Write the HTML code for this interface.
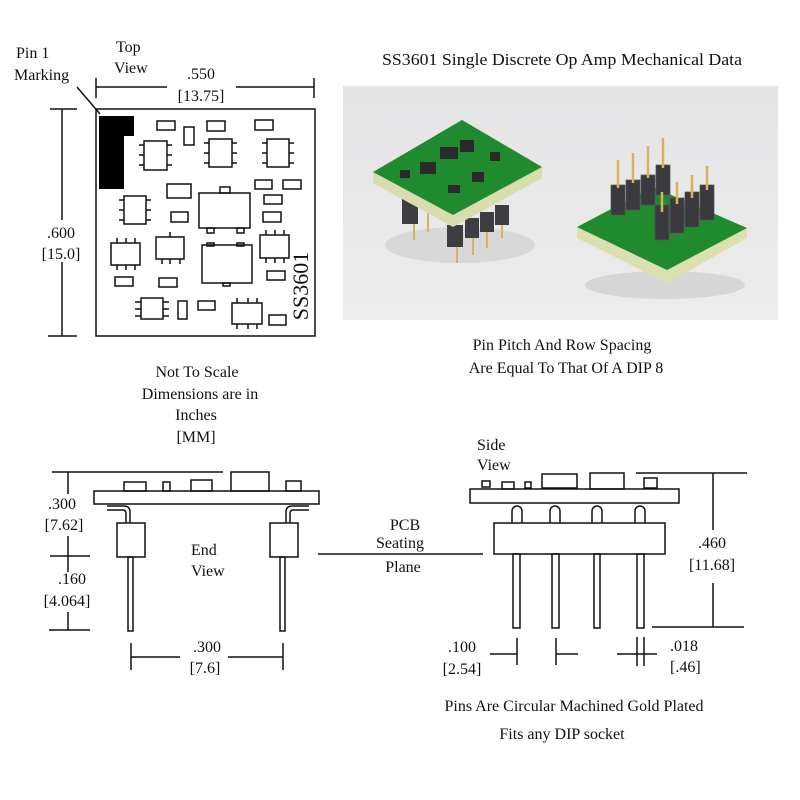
<!DOCTYPE html>
<html><head><meta charset="utf-8"><style>
html,body{margin:0;padding:0;background:#fff}
svg{display:block}
text{font-family:"Liberation Serif",serif;fill:#111}
</style></head><body>
<svg width="800" height="800" viewBox="0 0 800 800" xmlns="http://www.w3.org/2000/svg">
<defs>
<linearGradient id="bg" x1="0" y1="0" x2="0" y2="1"><stop offset="0" stop-color="#e4e4e6"/><stop offset="1" stop-color="#ececec"/></linearGradient>
</defs>
<g stroke="#111" stroke-width="1.5" fill="none">
<!-- TOP VIEW -->
<rect x="96" y="109" width="219" height="227"/>
<line x1="96" y1="87" x2="167" y2="87"/><line x1="236" y1="87" x2="314" y2="87"/>
<line x1="96" y1="78" x2="96" y2="98"/><line x1="314" y1="78" x2="314" y2="98"/>
<line x1="77" y1="87" x2="100" y2="114"/>
<line x1="62" y1="109" x2="62" y2="220"/><line x1="62" y1="262" x2="62" y2="336"/>
<line x1="50" y1="109" x2="77" y2="109"/><line x1="48" y1="336" x2="77" y2="336"/>
<rect x="157" y="121" width="18" height="9"/><rect x="207" y="121" width="18" height="10"/><rect x="255" y="120" width="18" height="10"/><rect x="184" y="127" width="10" height="18"/>
<rect x="144" y="141" width="23" height="29"/><path d="M139 145h5M139 155h5M139 165h5M167 145h5M167 155h5M167 165h5"/>
<rect x="209" y="139" width="23" height="28"/><path d="M204 143h5M204 153h5M204 163h5M232 143h5M232 153h5M232 163h5"/>
<rect x="267" y="139" width="22" height="28"/><path d="M262 143h5M262 153h5M262 163h5M289 143h5M289 153h5M289 163h5"/>
<rect x="167" y="184" width="24" height="14"/><rect x="255" y="180" width="17" height="9"/><rect x="283" y="180" width="18" height="9"/>
<rect x="124" y="196" width="22" height="28"/><path d="M119 200h5M119 210h5M119 220h5M146 200h5M146 210h5M146 220h5"/>
<rect x="199" y="193" width="51" height="35"/><rect x="220" y="187" width="10" height="6"/><rect x="207" y="228" width="7" height="5"/><rect x="237" y="228" width="7" height="5"/>
<rect x="171" y="212" width="17" height="10"/><rect x="264" y="195" width="18" height="9"/><rect x="263" y="212" width="18" height="10"/>
<rect x="111" y="243" width="29" height="22"/><path d="M117 238v5M126 238v5M135 238v5M117 265v5M126 265v5M135 265v5"/>
<rect x="156" y="237" width="28" height="22"/><path d="M170 232v5M162 259v5M170 259v5M180 259v5"/>
<rect x="202" y="245" width="50" height="38"/><rect x="207" y="243" width="7" height="3"/><rect x="237" y="243" width="7" height="3"/><rect x="223" y="283" width="7" height="3"/>
<rect x="260" y="235" width="29" height="23"/><path d="M266 230v5M275 230v5M284 230v5M266 258v5M275 258v5M284 258v5"/>
<rect x="115" y="277" width="18" height="9"/><rect x="159" y="278" width="18" height="9"/><rect x="267" y="271" width="18" height="9"/>
<rect x="141" y="298" width="22" height="21"/><path d="M135 302h6M135 309h6M135 316h6M163 302h6M163 309h6M163 316h6"/>
<rect x="178" y="301" width="9" height="18"/><rect x="198" y="301" width="17" height="9"/>
<rect x="232" y="303" width="30" height="21"/><path d="M237 298v5M248 298v5M257 298v5M237 324v5M248 324v5M257 324v5"/>
<rect x="269" y="315" width="17" height="10"/>
</g>
<path d="M99 116H134V136H124V189H99Z" fill="#000"/>
<text x="16" y="58" font-size="16">Pin 1</text>
<text x="14" y="80" font-size="16">Marking</text>
<text x="116" y="52" font-size="16">Top</text>
<text x="114" y="73" font-size="16">View</text>
<text x="201" y="79" font-size="16" text-anchor="middle">.550</text>
<text x="201" y="101" font-size="16" text-anchor="middle">[13.75]</text>
<text x="61" y="238" font-size="16" text-anchor="middle">.600</text>
<text x="61" y="259" font-size="16" text-anchor="middle">[15.0]</text>
<text transform="translate(308,286) rotate(-90)" font-size="22" text-anchor="middle">SS3601</text>
<text x="197" y="377" font-size="16" text-anchor="middle">Not To Scale</text>
<text x="200" y="399" font-size="16" text-anchor="middle">Dimensions are in</text>
<text x="196" y="420" font-size="16" text-anchor="middle">Inches</text>
<text x="196" y="442" font-size="16" text-anchor="middle">[MM]</text>
<!-- TITLE + PHOTO -->
<text x="382" y="65" font-size="16.5" textLength="360" lengthAdjust="spacingAndGlyphs">SS3601 Single Discrete Op Amp Mechanical Data</text>
<rect x="343" y="86" width="435" height="234" fill="url(#bg)"/>
<ellipse cx="460" cy="245" rx="75" ry="18" fill="#d8d8d8"/>
<ellipse cx="665" cy="285" rx="80" ry="14" fill="#d6d6d6"/>
<!-- left module -->
<g stroke="#d8b25a" stroke-width="2"><line x1="414" y1="215" x2="414" y2="240"/><line x1="428" y1="210" x2="428" y2="232"/><line x1="457" y1="240" x2="457" y2="263"/><line x1="473" y1="232" x2="473" y2="255"/><line x1="487" y1="228" x2="487" y2="248"/><line x1="502" y1="220" x2="502" y2="238"/></g>
<g fill="#3e3e42"><rect x="402" y="198" width="16" height="26"/><rect x="447" y="225" width="16" height="22"/><rect x="465" y="218" width="14" height="20"/><rect x="480" y="212" width="14" height="20"/><rect x="495" y="205" width="14" height="20"/></g>
<polygon points="373,172 462,120 542,167 542,178 453,227 373,183" fill="#d8dcae"/>
<polygon points="373,172 462,120 542,167 453,215" fill="#1f8a2e"/>
<g fill="#2a2a2a"><rect x="440" y="147" width="18" height="12"/><rect x="460" y="140" width="14" height="12"/><rect x="420" y="162" width="16" height="12"/><rect x="472" y="172" width="12" height="10"/><rect x="400" y="170" width="10" height="8"/><rect x="490" y="152" width="10" height="9"/><rect x="448" y="185" width="12" height="8"/></g>
<!-- right module -->
<polygon points="577,227 653,187 747,228 747,238 667,283 577,238" fill="#dbe0b0"/>
<polygon points="577,227 653,187 747,228 667,270" fill="#1f8a2e"/>
<g fill="#3a3a3e" stroke="#555" stroke-width="0.7">
<rect x="611" y="185" width="14" height="30"/><rect x="626" y="180" width="14" height="30"/><rect x="641" y="175" width="14" height="30"/><rect x="656" y="165" width="14" height="30"/>
<rect x="655" y="205" width="14" height="35"/><rect x="670" y="198" width="14" height="35"/><rect x="685" y="192" width="14" height="35"/><rect x="700" y="185" width="14" height="35"/>
</g>
<g stroke="#d8b25a" stroke-width="2.5"><line x1="618" y1="160" x2="618" y2="188"/><line x1="633" y1="153" x2="633" y2="183"/><line x1="648" y1="146" x2="648" y2="178"/><line x1="663" y1="138" x2="663" y2="168"/><line x1="662" y1="192" x2="662" y2="212"/><line x1="677" y1="182" x2="677" y2="204"/><line x1="692" y1="175" x2="692" y2="198"/><line x1="707" y1="166" x2="707" y2="190"/></g>
<text x="562" y="350" font-size="16" text-anchor="middle">Pin Pitch And Row Spacing</text>
<text x="566" y="373" font-size="16" text-anchor="middle">Are Equal To That Of A DIP 8</text>
<!-- END VIEW -->
<g stroke="#111" stroke-width="1.5" fill="none">
<line x1="52" y1="472" x2="223" y2="472"/><line x1="68" y1="472" x2="68" y2="494"/>
<line x1="68" y1="536" x2="68" y2="572"/><line x1="50" y1="556" x2="90" y2="556"/>
<line x1="68" y1="612" x2="68" y2="630"/><line x1="49" y1="630" x2="90" y2="630"/>
<rect x="94" y="491" width="225" height="13"/>
<rect x="124" y="482" width="22" height="9"/><rect x="163" y="482" width="7" height="9"/><rect x="191" y="480" width="21" height="11"/><rect x="231" y="472" width="38" height="19"/><rect x="286" y="481" width="15" height="10"/>
<path d="M107 506h17q6 0 6 6v11M107 510h16q3 0 3 4v9"/>
<path d="M309 506h-17q-6 0-6 6v11M309 510h-16q-3 0-3 4v9"/>
<rect x="117" y="523" width="28" height="34"/><rect x="128" y="557" width="5" height="74"/>
<rect x="270" y="523" width="28" height="34"/><rect x="280" y="557" width="5" height="74"/>
<line x1="131" y1="657" x2="180" y2="657"/><line x1="228" y1="657" x2="283" y2="657"/>
<line x1="131" y1="643" x2="131" y2="670"/><line x1="283" y1="643" x2="283" y2="670"/>
<line x1="318" y1="554" x2="483" y2="554"/>
</g>
<text x="62" y="509" font-size="16" text-anchor="middle">.300</text>
<text x="64" y="530" font-size="16" text-anchor="middle">[7.62]</text>
<text x="72" y="584" font-size="16" text-anchor="middle">.160</text>
<text x="67" y="606" font-size="16" text-anchor="middle">[4.064]</text>
<text x="191" y="555" font-size="16">End</text>
<text x="191" y="576" font-size="16">View</text>
<text x="207" y="652" font-size="16" text-anchor="middle">.300</text>
<text x="205" y="673" font-size="16" text-anchor="middle">[7.6]</text>
<text x="405" y="530" font-size="16" text-anchor="middle">PCB</text>
<text x="400" y="548" font-size="16" text-anchor="middle">Seating</text>
<text x="403" y="572" font-size="16" text-anchor="middle">Plane</text>
<!-- SIDE VIEW -->
<text x="477" y="450" font-size="16">Side</text>
<text x="477" y="470" font-size="16">View</text>
<g stroke="#111" stroke-width="1.5" fill="none">
<rect x="470" y="489" width="209" height="14"/>
<rect x="482" y="481" width="8" height="6"/><rect x="502" y="482" width="12" height="7"/><rect x="525" y="482" width="6" height="6"/><rect x="542" y="474" width="35" height="14"/><rect x="590" y="473" width="34" height="16"/><rect x="644" y="478" width="13" height="10"/>
<rect x="494" y="523" width="171" height="31"/>
<path d="M512 523v-12a5 5 0 0 1 10 0v12M550 523v-12a5 5 0 0 1 10 0v12M592 523v-12a5 5 0 0 1 10 0v12M635 523v-12a5 5 0 0 1 10 0v12"/>
<rect x="513" y="554" width="7" height="74"/><rect x="552" y="554" width="7" height="74"/><rect x="594" y="554" width="6" height="74"/><rect x="637" y="554" width="7" height="74"/>
<line x1="636" y1="473" x2="747" y2="473"/><line x1="713" y1="473" x2="713" y2="530"/><line x1="713" y1="583" x2="713" y2="627"/><line x1="652" y1="627" x2="744" y2="627"/>
<line x1="490" y1="654" x2="517" y2="654"/><line x1="517" y1="638" x2="517" y2="665"/>
<line x1="556" y1="638" x2="556" y2="665"/><line x1="556" y1="654" x2="578" y2="654"/>
<line x1="617" y1="654" x2="657" y2="654"/><line x1="637" y1="637" x2="637" y2="666"/><line x1="644" y1="637" x2="644" y2="666"/>
</g>
<text x="712" y="548" font-size="16" text-anchor="middle">.460</text>
<text x="712" y="570" font-size="16" text-anchor="middle">[11.68]</text>
<text x="462" y="652" font-size="16" text-anchor="middle">.100</text>
<text x="462" y="674" font-size="16" text-anchor="middle">[2.54]</text>
<text x="670" y="651" font-size="16">.018</text>
<text x="670" y="672" font-size="16">[.46]</text>
<text x="574" y="711" font-size="16" text-anchor="middle">Pins Are Circular Machined Gold Plated</text>
<text x="562" y="739" font-size="16" text-anchor="middle">Fits any DIP socket</text>
</svg>
</body></html>
